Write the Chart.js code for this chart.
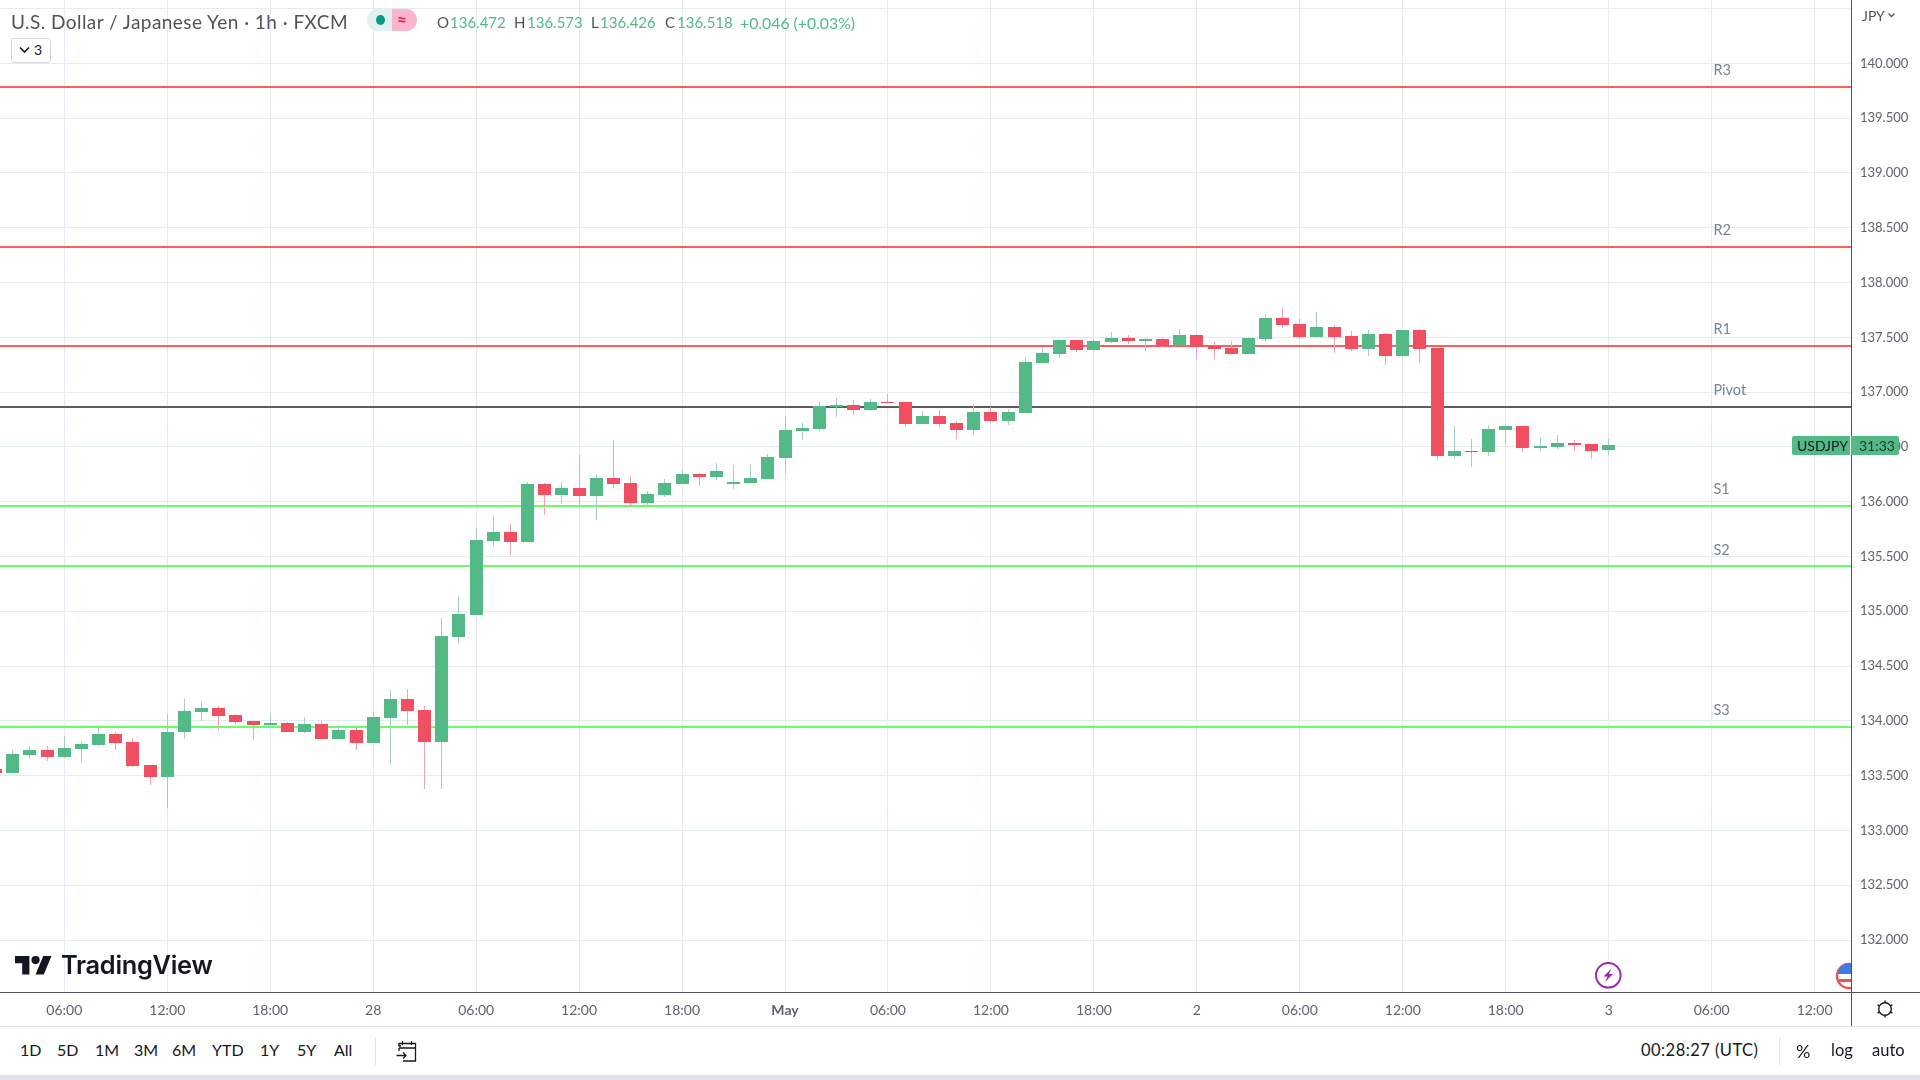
<!DOCTYPE html>
<html><head><meta charset="utf-8">
<script src="https://cdn.jsdelivr.net/npm/chart.js@4/dist/chart.umd.min.js"></script>
<style>
html,body{margin:0;padding:0;background:#fff;width:1920px;height:1080px;overflow:hidden;font-family:Lato,"Open Sans",sans-serif;color:#131722}
#wrap{position:absolute;left:0;top:0;width:1920px;height:1026px}
canvas{display:block}
.t{position:absolute;white-space:nowrap;line-height:1}
.g{color:#53b987}
.box{position:absolute}
svg{position:absolute;overflow:visible}
</style></head><body>
<div id="wrap"><canvas id="c" width="1920" height="1026"></canvas></div>

<div class="t" style="left:11px;top:12px;font-size:19px;color:#50535e;letter-spacing:.45px">U.S. Dollar / Japanese Yen · 1h · FXCM</div>
<div class="box" style="left:367px;top:9px;width:25px;height:22px;background:#dff2ef;border-radius:11px 0 0 11px"></div>
<div class="box" style="left:392px;top:9px;width:25px;height:22px;background:#fbb5cd;border-radius:0 11px 11px 0"></div>
<div class="box" style="left:376px;top:15px;width:9px;height:10px;background:#089981;border-radius:50%"></div>
<div class="t" style="left:397px;top:11px;font-size:17px;font-weight:700;color:#d81b60">≈</div>
<div class="t" style="left:437px;top:15px;font-size:15px;color:#50535e">O</div>
<div class="t g" style="left:450px;top:15px;font-size:15px">136.472</div>
<div class="t" style="left:514px;top:15px;font-size:15px;color:#50535e">H</div>
<div class="t g" style="left:527px;top:15px;font-size:15px">136.573</div>
<div class="t" style="left:591px;top:15px;font-size:15px;color:#50535e">L</div>
<div class="t g" style="left:600px;top:15px;font-size:15px">136.426</div>
<div class="t" style="left:665px;top:15px;font-size:15px;color:#50535e">C</div>
<div class="t g" style="left:677px;top:15px;font-size:15px">136.518</div>
<div class="t g" style="left:740px;top:15px;font-size:15.8px">+0.046 (+0.03%)</div>
<div class="box" style="left:11px;top:38px;width:38px;height:23px;background:#fff;border:1px solid #d6d8e0;border-radius:3px"></div>
<svg style="left:19px;top:46px" width="12" height="8"><path d="M1 1.5 L5.5 6 L10 1.5" fill="none" stroke="#131722" stroke-width="1.6"/></svg>
<div class="t" style="left:34px;top:43px;font-size:14px;color:#131722">3</div>

<div class="t" style="left:1862px;top:9px;font-size:14px;color:#50535e">JPY</div>
<svg style="left:1888px;top:13px" width="8" height="5"><path d="M.5 .5 L3.5 3.5 L6.5 .5" fill="none" stroke="#50535e" stroke-width="1.3"/></svg>

<svg style="left:15px;top:956px" width="37" height="18.5" viewBox="0 4 36 18"><path d="M14 22H7V11H0V4h14v18zM28 22h-8l7.5-18h8L28 22z" fill="#131722"/><circle cx="20" cy="8" r="4" fill="#131722"/></svg>
<div class="t" style="left:61px;top:952px;font-family:Inter;font-weight:600;font-size:25.4px;color:#131722;letter-spacing:-.3px">TradingView</div>

<svg style="left:1594px;top:961px" width="29" height="29"><circle cx="14.3" cy="14.3" r="12.3" fill="#fff" stroke="#9c27b0" stroke-width="2"/><path d="M17.5 7.5 L9.5 15.5 L13.5 15.5 L11 21 L19 13 L15 13 Z" fill="#9c27b0"/></svg>
<div class="box" style="left:1830px;top:960px;width:21px;height:32px;overflow:hidden">
<svg style="left:0;top:0" width="40" height="32"><circle cx="19" cy="16" r="12" fill="#fff" stroke="#ef5350" stroke-width="2.4"/><path d="M8 14 A11 11 0 0 1 30 14 Z" fill="#3d7de0"/><path d="M9 19 H29 V22 H9 Z" fill="#ef5350"/></svg></div>

<div class="box" style="left:1851px;top:992px;width:69px;height:1px;background:#50535e"></div>
<div class="box" style="left:1851px;top:992px;width:1px;height:34px;background:#50535e"></div>
<div class="box" style="left:0;top:1026px;width:1920px;height:1px;background:#e0e3eb"></div>
<svg style="left:1875px;top:999px" width="20" height="20" fill="none" stroke="#131722" stroke-width="1.4"><circle cx="10" cy="10" r="6.3"/><path d="M10 1.5V3.7M10 16.3V18.5M2.6 5.8L4.6 7M15.4 13L17.4 14.2M2.6 14.2L4.6 13M15.4 7L17.4 5.8"/></svg>

<div class="box" style="left:1792px;top:436px;width:58px;height:19px;background:#53b987;border-radius:2px 0 0 2px"></div>
<div class="box" style="left:1851px;top:436px;width:48px;height:19px;background:#53b987;border-radius:0 2px 2px 0"></div>
<div class="t" style="left:1797px;top:439px;font-size:14px;color:#131722">USDJPY</div>
<div class="t" style="left:1859px;top:439px;font-size:14px;color:#1f3a2e">31:33</div>

<div class="t" style="left:20px;top:1042px;font-size:16px">1D</div>
<div class="t" style="left:57px;top:1042px;font-size:16px">5D</div>
<div class="t" style="left:95px;top:1042px;font-size:16px">1M</div>
<div class="t" style="left:134px;top:1042px;font-size:16px">3M</div>
<div class="t" style="left:172px;top:1042px;font-size:16px">6M</div>
<div class="t" style="left:212px;top:1042px;font-size:16px">YTD</div>
<div class="t" style="left:260px;top:1042px;font-size:16px">1Y</div>
<div class="t" style="left:297px;top:1042px;font-size:16px">5Y</div>
<div class="t" style="left:334px;top:1042px;font-size:16px">All</div>
<div class="box" style="left:375px;top:1037px;width:1px;height:28px;background:#e0e3eb"></div>
<svg style="left:396px;top:1040px" width="22" height="22" fill="none" stroke="#131722" stroke-width="1.3"><path d="M5 6H3V3.5H19.5V21H7M19.5 8H3M6.5 1V5M15.5 1V5M0.5 15.5H10M7 12.5L10 15.5L7 18.5M3 8V11"/></svg>
<div class="t" style="left:1641px;top:1042px;font-size:16.5px;letter-spacing:.45px">00:28:27 (UTC)</div>
<div class="box" style="left:1779px;top:1037px;width:1px;height:28px;background:#e0e3eb"></div>
<div class="t" style="left:1796px;top:1042px;font-size:18px">%</div>
<div class="t" style="left:1831px;top:1042px;font-size:16.5px">log</div>
<div class="t" style="left:1872px;top:1042px;font-size:16.5px">auto</div>
<div class="box" style="left:0;top:1075px;width:1920px;height:5px;background:#e0e3eb"></div>

<script>
// One candle per hour, 27 Apr 02:00 (index 0) to 3 May 00:00 (index 94); 29-30 Apr are the weekend gap.
const barIndex = Array.from({length:95},(_,i)=>i);
const opens = [133.557,133.521,133.685,133.730,133.667,133.739,133.776,133.876,133.803,133.594,133.485,133.894,134.085,134.121,134.058,134.003,133.958,133.985,133.903,133.967,133.839,133.921,133.794,134.030,134.203,134.103,133.803,134.767,134.967,135.637,135.728,135.628,136.166,136.065,136.129,136.056,136.220,136.175,135.992,136.065,136.166,136.257,136.229,136.157,136.175,136.211,136.403,136.649,136.667,136.867,136.885,136.839,136.912,136.912,136.712,136.785,136.721,136.658,136.821,136.739,136.812,137.267,137.348,137.476,137.385,137.458,137.494,137.467,137.485,137.421,137.521,137.421,137.403,137.348,137.485,137.676,137.621,137.503,137.594,137.512,137.394,137.530,137.330,137.567,137.403,136.421,136.467,136.449,136.658,136.694,136.494,136.503,136.539,136.530,136.472];
const highs = [133.557,133.730,133.758,133.767,133.858,133.803,133.940,133.903,133.848,133.594,134.067,134.203,134.176,134.139,134.067,134.003,134.067,133.994,134.039,134.003,133.958,133.939,134.076,134.285,134.294,134.139,134.939,135.130,135.764,135.865,135.801,136.184,136.175,136.184,136.430,136.248,136.567,136.230,136.102,136.211,136.293,136.266,136.357,136.339,136.339,136.439,136.786,136.722,136.921,136.948,136.930,136.939,136.985,136.912,136.830,136.839,136.739,136.894,136.867,136.848,137.312,137.412,137.485,137.476,137.485,137.548,137.521,137.494,137.494,137.576,137.530,137.458,137.467,137.503,137.703,137.776,137.667,137.730,137.612,137.558,137.567,137.539,137.567,137.576,137.403,136.694,136.576,136.703,136.694,136.694,136.585,136.612,136.567,136.530,136.573];
const lows = [133.521,133.520,133.648,133.630,133.658,133.621,133.767,133.730,133.576,133.412,133.203,133.839,134.003,133.921,133.976,133.821,133.939,133.894,133.885,133.839,133.821,133.730,133.794,133.603,133.958,133.376,133.376,134.712,134.967,135.600,135.518,135.628,135.883,135.983,135.974,135.837,136.129,135.956,135.974,136.047,136.157,136.147,136.202,136.120,136.166,136.211,136.257,136.567,136.648,136.776,136.794,136.830,136.903,136.685,136.712,136.685,136.576,136.612,136.721,136.703,136.812,137.267,137.312,137.367,137.376,137.448,137.439,137.376,137.412,137.421,137.294,137.303,137.348,137.348,137.458,137.585,137.485,137.494,137.358,137.376,137.330,137.248,137.312,137.267,136.394,136.394,136.321,136.421,136.512,136.458,136.467,136.485,136.467,136.394,136.426];
const closes = [133.521,133.694,133.730,133.667,133.748,133.785,133.876,133.794,133.585,133.485,133.903,134.094,134.121,134.048,133.994,133.958,133.985,133.903,133.967,133.839,133.921,133.794,134.039,134.203,134.094,133.803,134.776,134.976,135.646,135.728,135.628,136.166,136.065,136.129,136.056,136.220,136.166,135.992,136.074,136.175,136.257,136.229,136.284,136.184,136.220,136.412,136.658,136.676,136.877,136.885,136.839,136.912,136.903,136.712,136.785,136.712,136.658,136.821,136.739,136.821,137.276,137.358,137.476,137.385,137.467,137.494,137.467,137.485,137.421,137.521,137.412,137.394,137.348,137.494,137.676,137.612,137.503,137.594,137.503,137.394,137.530,137.330,137.567,137.394,136.421,136.467,136.449,136.667,136.694,136.494,136.512,136.539,136.521,136.467,136.518];

const pivotNames = ["R3","R2","R1","Pivot","S1","S2","S3"];
const pivotLevels = [139.784,138.324,137.421,136.867,135.965,135.409,133.948];
const pivotColors = ["#ff5d5d","#ff5d5d","#ff5d5d","#5d5d5d","#66ff66","#66ff66","#66ff66"];
const pivotLabelIndex = 100.1;

const timeTickIndex = [4,10,16,22,28,34,40,46,52,58,64,70,76,82,88,94,100,106];
const timeTickLabels = ["06:00","12:00","18:00","28","06:00","12:00","18:00","May","06:00","12:00","18:00","2","06:00","12:00","18:00","3","06:00","12:00"];
const priceTicks = [132,132.5,133,133.5,134,134.5,135,135.5,136,136.5,137,137.5,138,138.5,139,139.5,140,140.5];
const priceTickLabels = ["132.000","132.500","133.000","133.500","134.000","134.500","135.000","135.500","136.000","136.500","137.000","137.500","138.000","138.500","139.000","139.500","140.000",""];

const xMin = 0.253, xMax = 108.12, yMin = 131.526, yMax = 140.578;
const upBody="#53b987", downBody="#ef4f60", upWick="#a5cdcc", downWick="#f6a4b1", gridColor="#e2ecf2", axisColor="#50535e";
const isUp = barIndex.map(i=>closes[i]>=opens[i]);

const snapPlugin = {
  id:"snap",
  beforeDatasetsDraw(chart){
    chart.data.datasets.forEach((ds,k)=>{
      const meta = chart.getDatasetMeta(k);
      meta.data.forEach(el=>{
        if(ds.type==="bar"){
          el.x = Math.floor(el.x)+0.5;
          const a=Math.round(el.y), b=Math.round(el.base);
          el.y=a; el.base=(a===b)?a+1:b; el.height=el.base-el.y;
        } else { el.y=Math.round(el.y); }
      });
    });
  }
};
const pivotLabelPlugin = {
  id:"pivotLabels",
  afterDatasetsDraw(chart){
    const c=chart.ctx, x=chart.scales.x, y=chart.scales.y;
    c.save(); c.font='14.5px Lato'; c.fillStyle="#758696"; c.textBaseline="middle"; c.textAlign="left";
    pivotNames.forEach((n,i)=>c.fillText(n, x.getPixelForValue(pivotLabelIndex), y.getPixelForValue(pivotLevels[i])-16.5));
    c.restore();
  }
};
const noPad = s=>{s.paddingTop=0;s.paddingBottom=0;s.paddingLeft=0;s.paddingRight=0;};

new Chart(document.getElementById("c"),{
  data:{datasets:[
    ...pivotNames.map((n,i)=>({type:"line",label:n,order:3,data:[{x:xMin,y:pivotLevels[i]},{x:xMax,y:pivotLevels[i]}],borderColor:pivotColors[i],borderWidth:2,pointRadius:0,fill:false,tension:0})),
    {type:"bar",label:"wick",order:2,grouped:false,barThickness:1,inflateAmount:0,borderWidth:0,
      data:barIndex.map(i=>({x:i,y:[lows[i],highs[i]]})),backgroundColor:barIndex.map(i=>isUp[i]?upWick:downWick)},
    {type:"bar",label:"body",order:1,grouped:false,barThickness:13,inflateAmount:0,borderWidth:0,
      data:barIndex.map(i=>({x:i,y:[Math.min(opens[i],closes[i]),Math.max(opens[i],closes[i])]})),backgroundColor:barIndex.map(i=>isUp[i]?upBody:downBody)}
  ]},
  plugins:[snapPlugin,pivotLabelPlugin],
  options:{
    responsive:false,devicePixelRatio:1,animation:false,
    layout:{padding:0,autoPadding:false},
    plugins:{legend:{display:false},tooltip:{enabled:false},title:{display:false}},
    scales:{
      x:{type:"linear",position:"bottom",offset:false,min:xMin,max:xMax,
        afterBuildTicks(s){s.ticks=timeTickIndex.map(v=>({value:v}));},
        afterFit(s){s.height=34;noPad(s);},
        grid:{color:gridColor,lineWidth:1,drawTicks:false,offset:false},
        border:{display:true,color:axisColor,width:1},
        ticks:{autoSkip:false,maxRotation:0,minRotation:0,padding:10,color:"#60636e",
          font:c=>c.tick&&c.tick.value===46?{family:"Lato",size:14,weight:"700"}:{family:"Lato",size:14},
          callback:(v)=>timeTickLabels[timeTickIndex.indexOf(v)]}},
      y:{type:"linear",position:"right",min:yMin,max:yMax,
        afterBuildTicks(s){s.ticks=priceTicks.map(v=>({value:v}));},
        afterFit(s){s.width=69;noPad(s);},
        grid:{color:gridColor,lineWidth:1,drawTicks:false},
        border:{display:true,color:axisColor,width:1},
        ticks:{autoSkip:false,padding:9,color:"#60636e",font:{family:"Lato",size:13},
          callback:(v)=>priceTickLabels[priceTicks.indexOf(v)]}}
    }
  }
});
</script>
</body></html>
